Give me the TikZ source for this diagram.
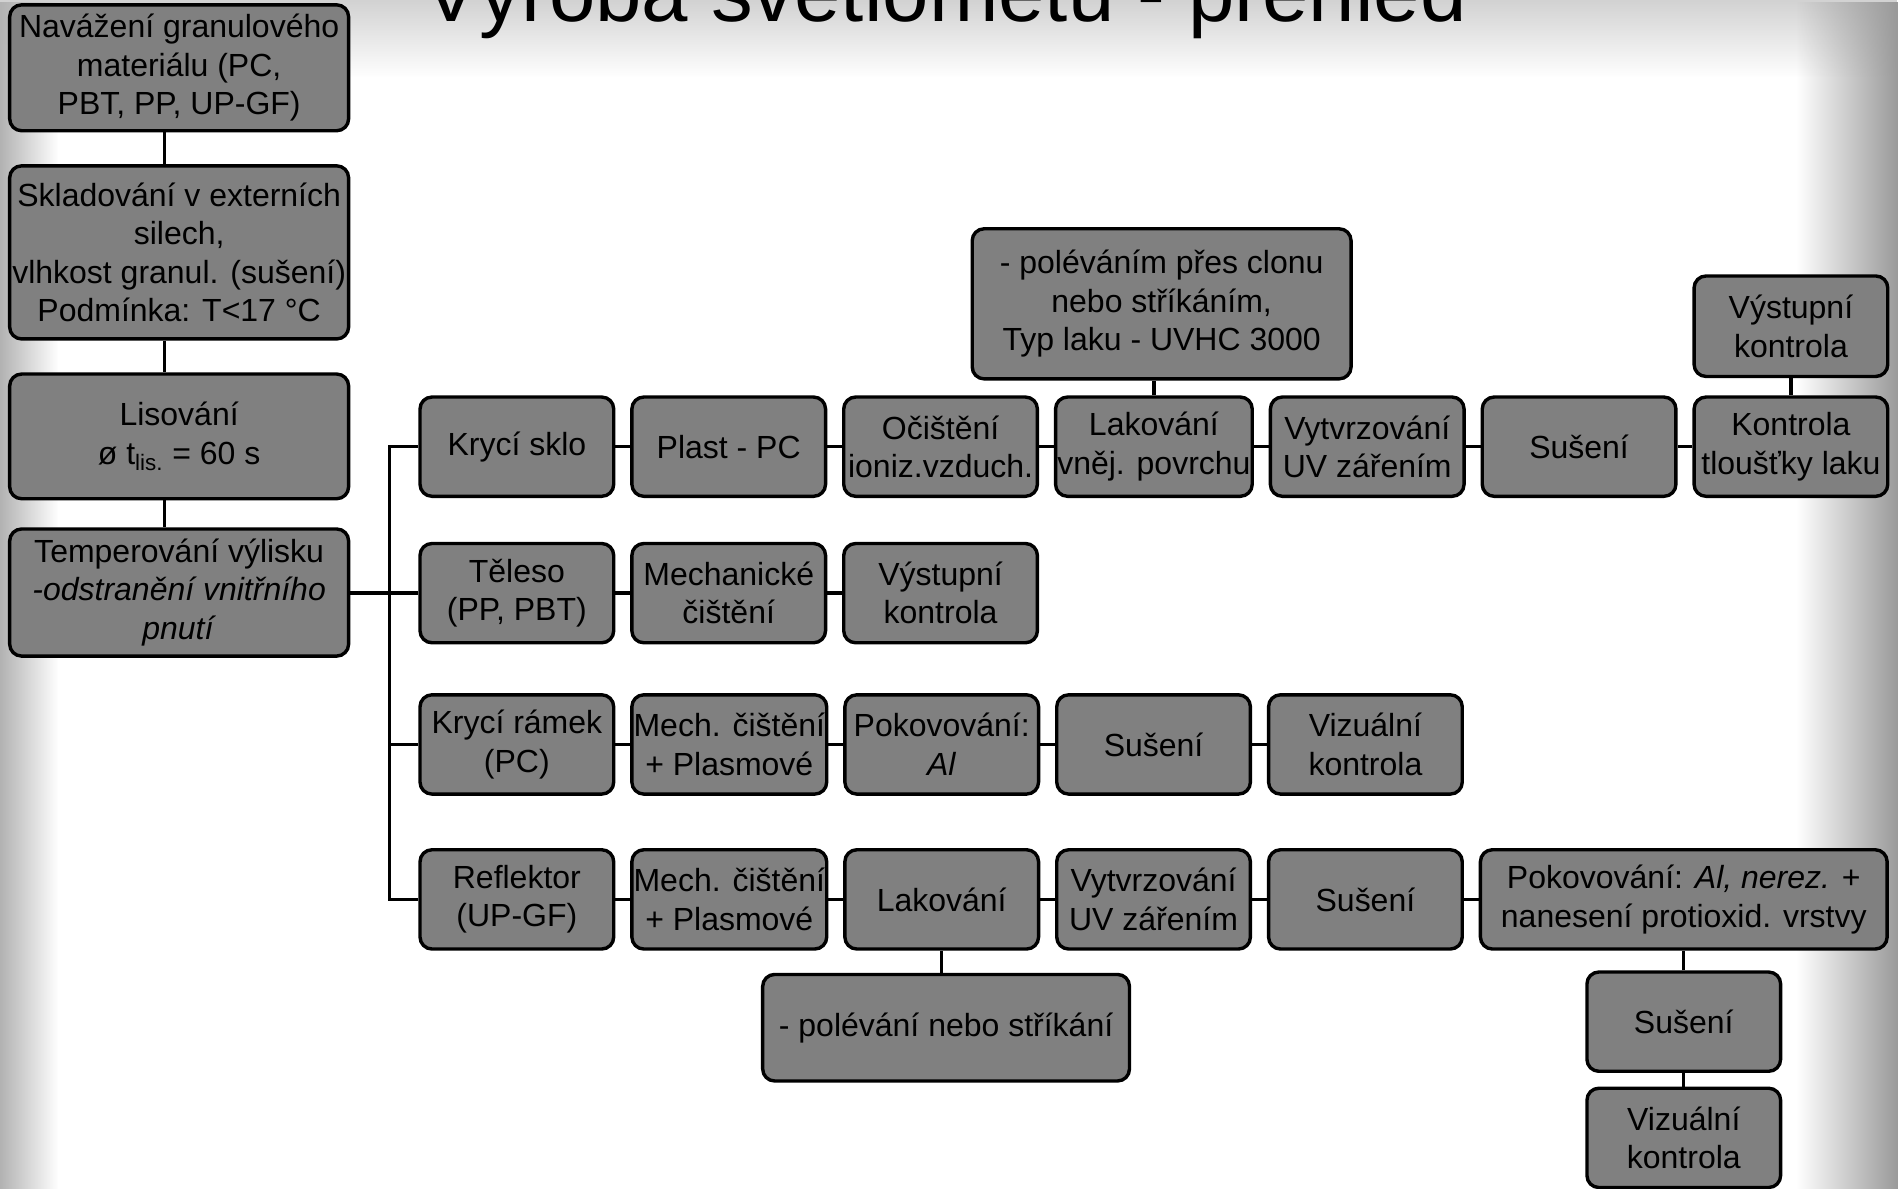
\documentclass[tikz,border=0pt]{standalone}
\usepackage{fontspec}
\setmainfont{Liberation Sans}
\usepackage{tikz}
\usetikzlibrary{positioning,fadings}
\definecolor{ink}{HTML}{000000}
\definecolor{boxgray}{HTML}{808080}
\tikzfading[name=zleva,left color=transparent!0,right color=transparent!100]
\tikzfading[name=zprava,left color=transparent!100,right color=transparent!0]
\tikzfading[name=shora,top color=transparent!0,bottom color=transparent!100]
\tikzset{
  krok/.style={rectangle,rounded corners=7pt,draw=ink,line width=2pt,fill=boxgray,
    align=center,inner sep=1pt,minimum width=4cm,minimum height=2.05cm,text=ink},
  krokl/.style={krok,minimum width=7cm},
  spoj/.style={line width=2pt,draw=ink},
}
\newcommand{\fs}{\fontsize{18.8}{22.6}\selectfont}

\begin{document}
\begin{tikzpicture}[node distance=6.55mm and 3.05mm,font=\fs]
  \useasboundingbox (0,0) rectangle (39.2,-24.55);
  \fill[white] (0,0) rectangle (39.2,-24.55);
  \fill[gray!35,path fading=shora] (0,0) rectangle (39.2,-1.6);
  \fill[gray!60,path fading=zleva] (0,0) rectangle (1.2,-24.55);
  \fill[gray!80,path fading=zprava] (37.1,0) rectangle (39.2,-24.55);
  \node[anchor=base,font=\fontsize{49}{55}\selectfont] (nadpis) at (19.525,-0.45) {Výroba světlometu - přehled};

  \node[krokl,minimum height=2.6cm] (a) at (3.7,-1.4) {Navážení granulového\\materiálu (PC,\\PBT, PP, UP-GF)};
  \node[krokl,minimum height=3.575cm] (b) at (3.7,-5.2125) {Skladování v externích\\silech,\\vlhkost granul. (sušení)\\Podmínka: T<17 °C};
  \node[krokl,minimum height=2.575cm] (c) at (3.7,-9.0125) {Lisování\\ø t\textsubscript{lis.} = 60 s};
  \node[krokl,minimum height=2.625cm] (d) at (3.7,-12.2375) {Temperování výlisku\\\textit{-odstranění vnitřního}\\\textit{pnutí}};

  \node[krok] (r1a) at (10.675,-9.225) {Krycí sklo};
  \node[krok,right=of r1a] (r1b) {Plast - PC};
  \node[krok,right=of r1b] (r1c) {Očištění\\ioniz.vzduch.};
  \node[krok,right=of r1c] (r1d) {Lakování\\vněj. povrchu};
  \node[krok,right=of r1d] (r1e) {Vytvrzování\\UV zářením};
  \node[krok,right=of r1e] (r1f) {Sušení};
  \node[krok,right=of r1f] (r1g) {Kontrola\\tloušťky laku};
  \node[krok,minimum width=7.825cm,minimum height=3.1cm,above=3.05mm of r1d,xshift=1.6mm] (r1pozn) {- poléváním přes clonu\\nebo stříkáním,\\Typ laku - UVHC 3000};
  \node[krok,minimum height=2.075cm,above=3.55mm of r1g] (r1vyst) {Výstupní\\kontrola};

  \node[krok] (r2a) at (10.675,-12.25) {Těleso\\(PP, PBT)};
  \node[krok,right=of r2a] (r2b) {Mechanické\\čištění};
  \node[krok,right=of r2b] (r2c) {Výstupní\\kontrola};

  \node[krok] (r3a) at (10.675,-15.375) {Krycí rámek\\(PC)};
  \node[krok,right=of r3a] (r3b) {Mech. čištění\\+ Plasmové};
  \node[krok,right=of r3b] (r3c) {Pokovování:\\\textit{Al}};
  \node[krok,right=of r3c] (r3d) {Sušení};
  \node[krok,right=of r3d] (r3e) {Vizuální\\kontrola};

  \node[krok] (r4a) at (10.675,-18.575) {Reflektor\\(UP-GF)};
  \node[krok,right=of r4a] (r4b) {Mech. čištění\\+ Plasmové};
  \node[krok,right=of r4b] (r4c) {Lakování};
  \node[krok,right=of r4c] (r4d) {Vytvrzování\\UV zářením};
  \node[krok,right=of r4d] (r4e) {Sušení};
  \node[krok,minimum width=8.4cm,right=of r4e] (r4f) {Pokovování: \textit{Al, nerez.} +\\nanesení protioxid. vrstvy};
  \node[krok,minimum width=7.575cm,minimum height=2.2cm,below=4.55mm of r4c,xshift=0.9mm] (r4pozn) {- polévání nebo stříkání};
  \node[krok,below=4.05mm of r4f] (r4g) {Sušení};
  \node[krok,below=2.8mm of r4g] (r4h) {Vizuální\\kontrola};

  \draw[spoj] ([xshift=-3mm]a.south) -- ([xshift=-3mm]a.south |- b.north);
  \draw[spoj] ([xshift=-3mm]b.south) -- ([xshift=-3mm]b.south |- c.north);
  \draw[spoj] ([xshift=-3mm]c.south) -- ([xshift=-3mm]c.south |- d.north);
  \draw[spoj] (r2a.west) -- (r2a.west -| d.east);
  \coordinate[left=6mm of r1a.west] (vetev);
  \draw[spoj] (r1a.west) -- (vetev) |- (r4a.west);
  \draw[spoj] (vetev |- r3a) -- (r3a.west);
  \foreach \x/\y in {r1a/r1b,r1b/r1c,r1c/r1d,r1d/r1e,r1e/r1f,r1f/r1g,
    r2a/r2b,r2b/r2c,r3a/r3b,r3b/r3c,r3c/r3d,r3d/r3e,
    r4a/r4b,r4b/r4c,r4c/r4d,r4d/r4e,r4e/r4f}
    \draw[spoj] (\x) -- (\y);
  \draw[spoj] (r1d.north) -- (r1d.north |- r1pozn.south);
  \draw[spoj] (r1g) -- (r1vyst);
  \draw[spoj] (r4c.south) -- (r4c.south |- r4pozn.north);
  \draw[spoj] (r4g) -- (r4g |- r4f.south);
  \draw[spoj] (r4g) -- (r4h);
\end{tikzpicture}
\end{document}
